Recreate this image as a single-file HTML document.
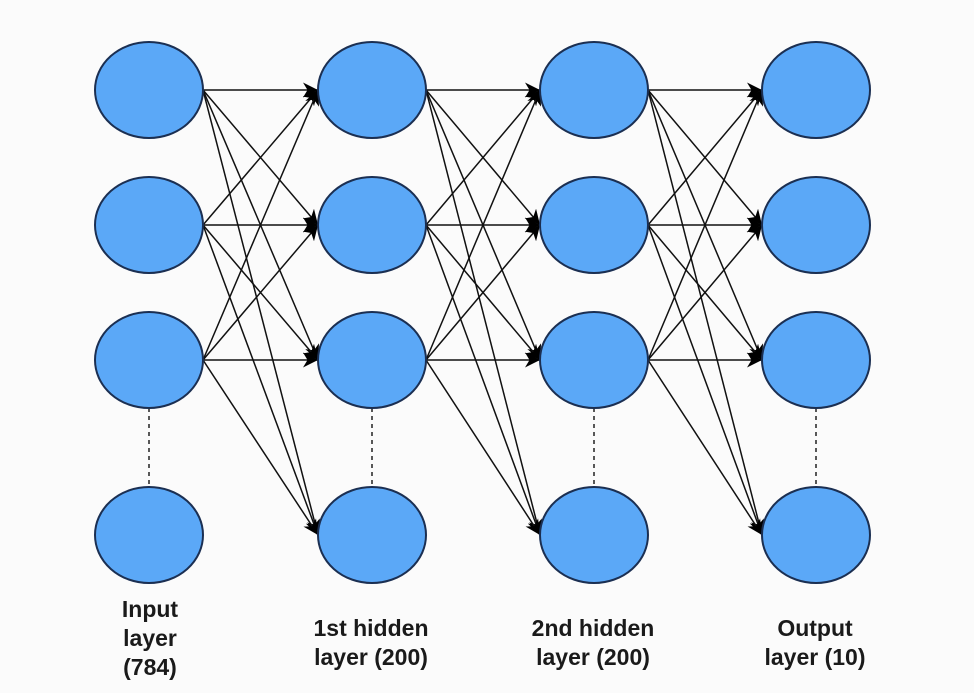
<!DOCTYPE html>
<html><head><meta charset="utf-8"><style>
html,body{margin:0;padding:0;background:#fbfbfb;}
svg{display:block}
text{font-family:"Liberation Sans",sans-serif;font-size:23px;font-weight:bold;fill:#1a1a1a;text-anchor:middle;}
</style></head><body>
<svg width="974" height="693" viewBox="0 0 974 693" xmlns="http://www.w3.org/2000/svg">
<defs>
<marker id="a" viewBox="0 0 10 10" refX="10" refY="5" markerWidth="15" markerHeight="15" markerUnits="userSpaceOnUse" orient="auto">
<path d="M0,0 L10,5 L0,10 L3,5 z" fill="#000"/>
</marker>
</defs>
<rect width="974" height="693" fill="#fbfbfb"/>
<g stroke="#111" stroke-width="1.5" marker-end="url(#a)">
<line x1="203" y1="90" x2="318" y2="90"/><line x1="203" y1="90" x2="318" y2="225"/><line x1="203" y1="90" x2="318" y2="360"/><line x1="203" y1="90" x2="318" y2="535"/>
<line x1="203" y1="225" x2="318" y2="90"/><line x1="203" y1="225" x2="318" y2="225"/><line x1="203" y1="225" x2="318" y2="360"/><line x1="203" y1="225" x2="318" y2="535"/>
<line x1="203" y1="360" x2="318" y2="90"/><line x1="203" y1="360" x2="318" y2="225"/><line x1="203" y1="360" x2="318" y2="360"/><line x1="203" y1="360" x2="318" y2="535"/>
<line x1="426" y1="90" x2="540" y2="90"/><line x1="426" y1="90" x2="540" y2="225"/><line x1="426" y1="90" x2="540" y2="360"/><line x1="426" y1="90" x2="540" y2="535"/>
<line x1="426" y1="225" x2="540" y2="90"/><line x1="426" y1="225" x2="540" y2="225"/><line x1="426" y1="225" x2="540" y2="360"/><line x1="426" y1="225" x2="540" y2="535"/>
<line x1="426" y1="360" x2="540" y2="90"/><line x1="426" y1="360" x2="540" y2="225"/><line x1="426" y1="360" x2="540" y2="360"/><line x1="426" y1="360" x2="540" y2="535"/>
<line x1="648" y1="90" x2="762" y2="90"/><line x1="648" y1="90" x2="762" y2="225"/><line x1="648" y1="90" x2="762" y2="360"/><line x1="648" y1="90" x2="762" y2="535"/>
<line x1="648" y1="225" x2="762" y2="90"/><line x1="648" y1="225" x2="762" y2="225"/><line x1="648" y1="225" x2="762" y2="360"/><line x1="648" y1="225" x2="762" y2="535"/>
<line x1="648" y1="360" x2="762" y2="90"/><line x1="648" y1="360" x2="762" y2="225"/><line x1="648" y1="360" x2="762" y2="360"/><line x1="648" y1="360" x2="762" y2="535"/>
</g>
<g stroke="#222" stroke-width="1.5" stroke-dasharray="4,4">
<line x1="149" y1="408" x2="149" y2="487"/><line x1="372" y1="408" x2="372" y2="487"/><line x1="594" y1="408" x2="594" y2="487"/><line x1="816" y1="408" x2="816" y2="487"/>
</g>
<g fill="#5ba8f7" stroke="#1b2f52" stroke-width="2">
<ellipse cx="149" cy="90" rx="54" ry="48"/><ellipse cx="149" cy="225" rx="54" ry="48"/><ellipse cx="149" cy="360" rx="54" ry="48"/><ellipse cx="149" cy="535" rx="54" ry="48"/>
<ellipse cx="372" cy="90" rx="54" ry="48"/><ellipse cx="372" cy="225" rx="54" ry="48"/><ellipse cx="372" cy="360" rx="54" ry="48"/><ellipse cx="372" cy="535" rx="54" ry="48"/>
<ellipse cx="594" cy="90" rx="54" ry="48"/><ellipse cx="594" cy="225" rx="54" ry="48"/><ellipse cx="594" cy="360" rx="54" ry="48"/><ellipse cx="594" cy="535" rx="54" ry="48"/>
<ellipse cx="816" cy="90" rx="54" ry="48"/><ellipse cx="816" cy="225" rx="54" ry="48"/><ellipse cx="816" cy="360" rx="54" ry="48"/><ellipse cx="816" cy="535" rx="54" ry="48"/>
</g>
<text x="150" y="617">Input</text><text x="150" y="646">layer</text><text x="150" y="675">(784)</text>
<text x="371" y="636">1st hidden</text><text x="371" y="665">layer (200)</text>
<text x="593" y="636">2nd hidden</text><text x="593" y="665">layer (200)</text>
<text x="815" y="636">Output</text><text x="815" y="665">layer (10)</text>
</svg>
</body></html>
